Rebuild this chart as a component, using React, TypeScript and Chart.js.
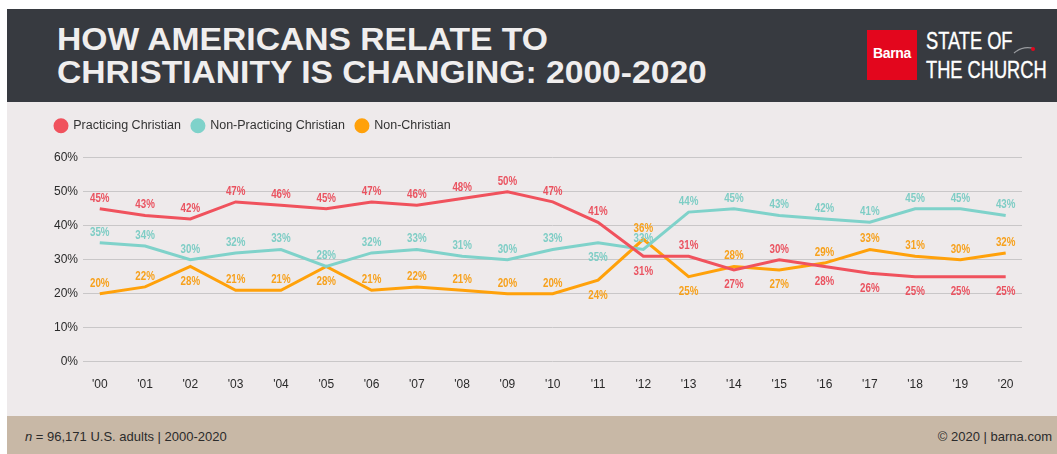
import React, { useEffect, useRef } from "react";
import { Chart, registerables } from "chart.js";

Chart.register(...registerables);

const years = ["'00", "'01", "'02", "'03", "'04", "'05", "'06", "'07", "'08", "'09", "'10", "'11", "'12", "'13", "'14", "'15", "'16", "'17", "'18", "'19", "'20"];
const practicing = [45, 43, 42, 47, 46, 45, 47, 46, 48, 50, 47, 41, 31, 31, 27, 30, 28, 26, 25, 25, 25];
const nonPracticing = [35, 34, 30, 32, 33, 28, 32, 33, 31, 30, 33, 35, 33, 44, 45, 43, 42, 41, 45, 45, 43];
const nonChristian = [20, 22, 28, 21, 21, 28, 21, 22, 21, 20, 20, 24, 36, 25, 28, 27, 29, 33, 31, 30, 32];
// label side for each point: a = above the line, b = below the line
const practicingSide = ["a", "a", "a", "a", "a", "a", "a", "a", "a", "a", "a", "a", "b", "a", "b", "a", "b", "b", "b", "b", "b"];
const nonPracticingSide = ["a", "a", "a", "a", "a", "a", "a", "a", "a", "a", "a", "b", "a", "a", "a", "a", "a", "a", "a", "a", "a"];
const nonChristianSide = ["a", "a", "b", "a", "a", "b", "a", "a", "a", "a", "a", "b", "a", "b", "a", "b", "a", "a", "a", "a", "a"];
const yTicks = [0, 10, 20, 30, 40, 50, 60];

const seriesNames = ["Practicing Christian", "Non-Practicing Christian", "Non-Christian"];
const lineColors = ["#f0525d", "#7fd2ca", "#ffa10a"];
const labelColors = ["#ea5360", "#7ecdc5", "#f7a11c"];

const sides = [practicingSide, nonPracticingSide, nonChristianSide];

const pointLabelPlugin = {
  id: "pointLabels",
  afterDatasetsDraw(chart: any) {
    const ctx = chart.ctx;
    chart.data.datasets.forEach((ds: any, di: number) => {
      const meta = chart.getDatasetMeta(di);
      meta.data.forEach((el: any, i: number) => {
        const v = ds.data[i].y;
        const y = sides[di][i] === "b" ? el.y + 15 : el.y - 10.5;
        ctx.save();
        ctx.font = "bold 12.5px 'Liberation Sans', Arial, sans-serif";
        ctx.textAlign = "center";
        ctx.textBaseline = "middle";
        ctx.fillStyle = labelColors[di];
        ctx.translate(el.x, y);
        ctx.scale(0.78, 1);
        ctx.fillText(v + "%", 0, 0);
        ctx.restore();
      });
    });
  },
};

const legendSpacePlugin = {
  id: "legendSpace",
  beforeInit(chart: any) {
    const legend = chart.legend;
    if (!legend) return;
    const orig = legend.fit;
    legend.fit = function () {
      orig.call(this);
      this.height += 15.7;
    };
  },
};

function LineChart() {
  const ref = useRef<HTMLCanvasElement | null>(null);
  useEffect(() => {
    if (!ref.current) return;
    const toXY = (arr: number[]) => arr.map((v, i) => ({ x: i, y: v }));
    const values = [practicing, nonPracticing, nonChristian];
    const chart = new Chart(ref.current, {
      type: "line",
      data: {
        datasets: values.map((arr, i) => ({
          label: seriesNames[i],
          data: toXY(arr),
          borderColor: lineColors[i],
          backgroundColor: lineColors[i],
          borderWidth: 3,
          pointRadius: 0,
          pointHoverRadius: 0,
          tension: 0,
          fill: false,
        })),
      },
      options: {
        animation: false,
        responsive: false,
        devicePixelRatio: 1,
        events: [],
        layout: { padding: { top: 6.5, left: 37, right: 35, bottom: 0 } },
        plugins: {
          tooltip: { enabled: false },
          legend: {
            display: true,
            position: "top",
            align: "start",
            labels: {
              usePointStyle: true,
              pointStyle: "circle",
              boxWidth: 12,
              boxHeight: 8.5,
              padding: 11,
              color: "#333333",
              font: { family: "'Liberation Sans', Arial, sans-serif", size: 12.5 },
            },
          },
        },
        scales: {
          x: {
            type: "linear",
            min: -0.37,
            max: 20.36,
            grid: { display: false },
            border: { display: false },
            ticks: {
              stepSize: 1,
              includeBounds: false,
              autoSkip: false,
              maxRotation: 0,
              padding: 8,
              color: "#2a2a2a",
              font: { family: "'Liberation Sans', Arial, sans-serif", size: 12 },
              callback: (v: any) => years[v as number] ?? "",
            },
            afterFit: (s: any) => {
              s.height = 54.3;
            },
          },
          y: {
            min: 0,
            max: 60,
            grid: { color: "#c9c7c8", lineWidth: 1, drawTicks: false },
            border: { display: false },
            afterBuildTicks: (s: any) => {
              s.ticks = yTicks.map((v) => ({ value: v }));
            },
            ticks: {
              padding: 5,
              color: "#2a2a2a",
              font: { family: "'Liberation Sans', Arial, sans-serif", size: 12 },
              callback: (v: any) => v + "%",
            },
            afterFit: (s: any) => {
              s.width = 39;
            },
          },
        },
      },
      plugins: [legendSpacePlugin, pointLabelPlugin],
    } as any);
    return () => chart.destroy();
  }, []);
  return <canvas ref={ref} width={1050} height={314} style={{ display: "block" }} />;
}

export default function App() {
  const titleStyle: React.CSSProperties = {
    position: "absolute",
    left: 57,
    fontFamily: "'Liberation Sans', Arial, sans-serif",
    fontWeight: 700,
    fontSize: 31,
    lineHeight: "31px",
    color: "#f0eeee",
    whiteSpace: "nowrap",
    transform: "scaleX(1.085)",
    transformOrigin: "left top",
  };
  const logoText: React.CSSProperties = {
    position: "absolute",
    left: 926,
    fontFamily: "'Liberation Sans', Arial, sans-serif",
    fontSize: 24,
    lineHeight: "24px",
    color: "#ffffff",
    whiteSpace: "nowrap",
    transform: "scaleX(0.76)",
    transformOrigin: "left top",
    WebkitTextStroke: "0.4px #ffffff",
  };
  return (
    <div style={{ position: "relative", width: 1057, height: 454, background: "#ffffff", overflow: "hidden" }}>
      <style>{`body{margin:0;overflow:hidden;}`}</style>
      <div style={{ position: "absolute", left: 7, top: 9, width: 1050, height: 93, background: "#373a40" }} />
      <div style={{ ...titleStyle, top: 24 }}>HOW AMERICANS RELATE TO</div>
      <div style={{ ...titleStyle, top: 57 }}>CHRISTIANITY IS CHANGING: 2000-2020</div>
      <div style={{ position: "absolute", left: 867, top: 30, width: 50, height: 50, background: "#e3061d" }} />
      <div
        style={{
          position: "absolute",
          left: 867,
          top: 46,
          width: 50,
          textAlign: "center",
          fontFamily: "'Liberation Sans', Arial, sans-serif",
          fontWeight: 700,
          fontSize: 14,
          lineHeight: "14px",
          color: "#ffffff",
          letterSpacing: -0.3,
        }}
      >
        Barna
      </div>
      <div style={{ ...logoText, top: 29 }}>STATE OF</div>
      <div style={{ ...logoText, top: 58 }}>THE CHURCH</div>
      <svg style={{ position: "absolute", left: 1010, top: 40, overflow: "visible" }} width={30} height={20}>
        <path d="M4 13 Q12 6 22 8" stroke="#9a9ca0" strokeWidth={1.2} fill="none" />
        <circle cx={23} cy={9} r={2} fill="#e3061d" />
      </svg>
      <div style={{ position: "absolute", left: 7, top: 102, width: 1050, height: 314, background: "#eeeaeb" }}>
        <LineChart />
      </div>
      <div style={{ position: "absolute", left: 7, top: 416, width: 1050, height: 38, background: "#c8b8a6" }} />
      <div
        style={{
          position: "absolute",
          left: 25,
          top: 429,
          fontFamily: "'Liberation Sans', Arial, sans-serif",
          fontSize: 13,
          lineHeight: "15px",
          color: "#2b2b2b",
          whiteSpace: "nowrap",
        }}
      >
        <i>n</i> = 96,171 U.S. adults | 2000-2020
      </div>
      <div
        style={{
          position: "absolute",
          right: 5,
          top: 429,
          fontFamily: "'Liberation Sans', Arial, sans-serif",
          fontSize: 13,
          lineHeight: "15px",
          color: "#2b2b2b",
          whiteSpace: "nowrap",
        }}
      >
        © 2020 | barna.com
      </div>
    </div>
  );
}
